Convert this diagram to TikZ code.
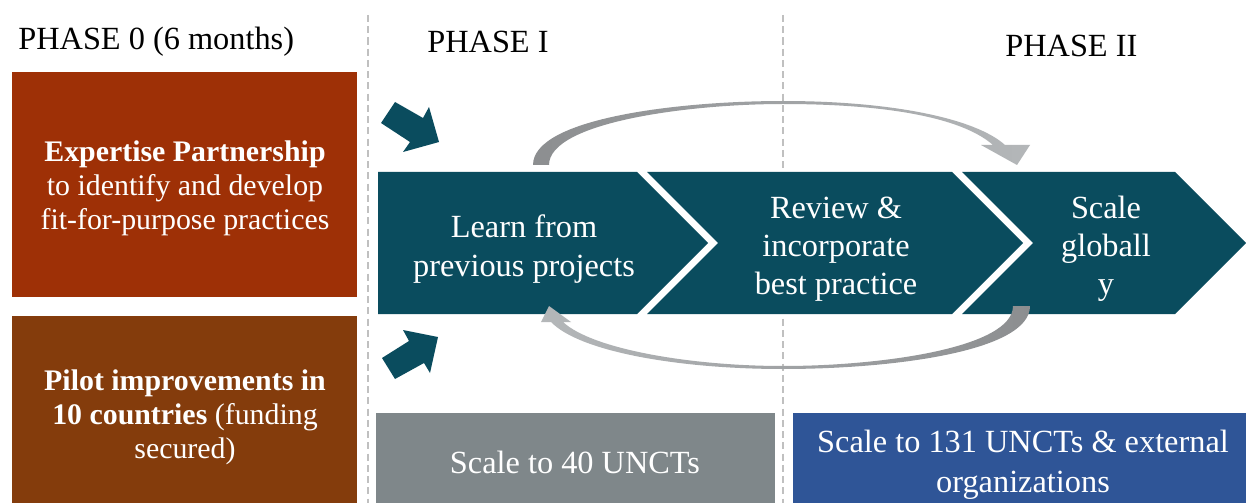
\documentclass[tikz,border=0pt]{standalone}
\usepackage{fontspec}
\setmainfont{Liberation Serif}
\usetikzlibrary{positioning}
\definecolor{phaseorange}{RGB}{158,48,6}
\definecolor{phasebrown}{RGB}{132,60,12}
\definecolor{tealband}{RGB}{10,76,94}
\definecolor{slate}{RGB}{127,135,138}
\definecolor{royal}{RGB}{47,85,151}
\definecolor{loopdark}{RGB}{140,142,144}
\definecolor{loopmid}{RGB}{214,214,214}
\definecolor{looplight}{RGB}{180,183,185}
\definecolor{guide}{RGB}{192,192,192}

\begin{document}
\begin{tikzpicture}[
  x=0.02cm, y=-0.02cm,
  phase/.style={anchor=west, inner sep=0pt, font=\fontsize{18.4}{22}\selectfont},
  tile/.style={inner sep=0pt},
  tiletxt/.style={inner sep=0pt, align=center, text=white, font=\fontsize{17}{19.3}\selectfont},
  steptxt/.style={inner sep=0pt, align=center, text=white, font=\fontsize{18.4}{21.7}\selectfont},
  guideline/.style={guide, line width=1.1pt, dash pattern=on 4pt off 2.4pt},
  loopup/.style={left color=loopdark, middle color=loopmid, right color=looplight},
  loopdown/.style={left color=looplight, middle color=loopmid, right color=loopdark}
]
\useasboundingbox[fill=white] (0,0) rectangle (1246,503);

% phase separators
\draw[guideline] (368,15) -- (368,503);
\draw[guideline] (783,15) -- (783,503);

\node[phase] (p0)  at (18,42)   {PHASE 0 (6 months)};
\node[phase] (p1)  at (427,42)  {PHASE I};
\node[phase] (p2)  at (1005,46) {PHASE II};

% phase 0 boxes
\node[tile, fill=phaseorange, minimum width=6.9cm, minimum height=4.5cm] (expert) at (184.5,184.5) {};
\node[tile, fill=phasebrown, minimum width=6.9cm, minimum height=3.8cm] (pilot) at (184.5,411) {};
\node[tiletxt] (experttxt) at (185,188)
  {\textbf{Expertise Partnership}\\to identify and develop\\fit-for-purpose practices};
\node[tiletxt] (pilottxt) at (185,417)
  {\textbf{Pilot improvements in}\\\textbf{10 countries} (funding\\secured)};

% chevron band
\fill[tealband] (378,172) -- (637,172) -- (708,243) -- (637,314) -- (378,314) -- cycle;
\fill[tealband] (647,172) -- (952,172) -- (1023,243) -- (952,314) -- (647,314) -- (718,243) -- cycle;
\fill[tealband] (962,172) -- (1175,172) -- (1246,243) -- (1175,314) -- (962,314) -- (1033,243) -- cycle;

\node[steptxt] (learn)  at (524,249)  {Learn from\\previous projects};
\node[steptxt] (review) at (836,249)  {Review \&\\incorporate\\best practice};
\node[steptxt] (scale)  at (1106,249) {Scale\\globall\\y};

% feedback loops
\shade[loopup] (533,165) .. controls (533,118) and (680,101) .. (783,101)
  .. controls (890,101) and (975,118) .. (1005,145) -- (1030,145) -- (1017,165)
  -- (981,145) -- (993,145) .. controls (960,116) and (880,104) .. (783,104)
  .. controls (690,104) and (549,122) .. (549,165) -- cycle;
\shade[loopdown] (1030,306) .. controls (1030,352) and (890,369) .. (783,369)
  .. controls (680,369) and (580,352) .. (551,322) -- (541,322) -- (549,306)
  -- (571,322) -- (563,322) .. controls (592,349) and (690,366) .. (783,366)
  .. controls (880,366) and (1013,348) .. (1013,306) -- cycle;

% inputs from phase 0
\fill[tealband] (395,102) -- (423,118) -- (429,107) -- (439,142) -- (403,152) -- (410,142) -- (381,123) -- cycle;
\fill[tealband] (395,379) -- (424,363) -- (430,373) -- (438,337) -- (403,330) -- (409,341) -- (382,358) -- cycle;

% scale-up targets
\node[tile, fill=slate, minimum width=7.98cm, minimum height=1.86cm] (forty) at (575.5,459.5) {};
\node[tile, fill=royal, minimum width=9.14cm, minimum height=1.86cm] (global) at (1021.5,459.5) {};
\node[steptxt] (fortytxt) at (575,462) {Scale to 40 UNCTs};
\node[steptxt, font=\fontsize{18.4}{22.6}\selectfont] (globaltxt) at (1023,465)
  {Scale to 131 UNCTs \& external\\organizations};
\end{tikzpicture}
\end{document}
